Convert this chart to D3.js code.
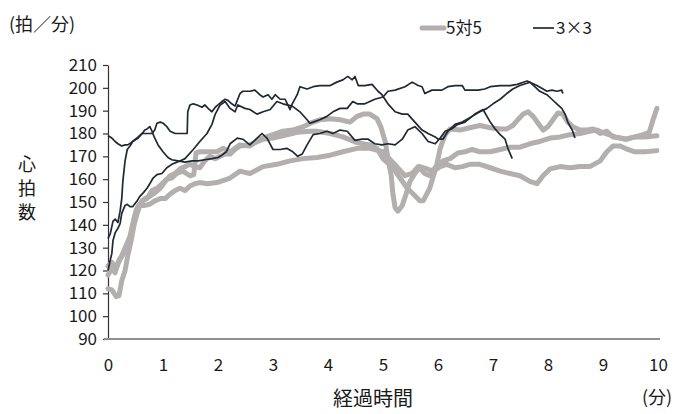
<!DOCTYPE html>
<html>
<head>
<meta charset="utf-8">
<script src="https://cdn.jsdelivr.net/npm/d3@7"></script>
<style>
  html, body { margin: 0; padding: 0; background: #fff; }
  svg { display: block; }
  text { font-family: "Noto Sans CJK JP", "Noto Sans", sans-serif; fill: #1a1a1a; }
</style>
</head>
<body>
<svg id="chart" width="691" height="414"></svg>
<script>
// Axis ticks and labels
const xTicks = [0, 1, 2, 3, 4, 5, 6, 7, 8, 9, 10];
const yTicks = [90, 100, 110, 120, 130, 140, 150, 160, 170, 180, 190, 200, 210];
const legendLabels = ["5対5", "3×3"];

// Heart rate [elapsed minutes, beats per minute] — 5対5 games
const fiveA = [[0,118],[0.07,121],[0.13,119],[0.18,123.5],[0.25,126.5],[0.33,131],[0.4,135],[0.47,142.5],[0.53,147.5],[0.62,150.5],[0.71,151.5],[0.8,155],[0.89,156],[0.98,158],[1.07,160],[1.16,160.5],[1.25,162.5],[1.36,163.5],[1.49,161.5],[1.56,162],[1.6,171.5],[1.67,172],[1.8,172],[1.98,172],[2.09,173.5],[2.22,172],[2.4,175],[2.58,174.5],[2.76,177.5],[3,179.5],[3.18,181],[3.36,181.5],[3.55,183],[3.73,185],[3.85,186],[4.04,186.5],[4.22,186],[4.4,185],[4.53,187.5],[4.64,188.5],[4.76,188.5],[4.89,186.5],[4.96,183],[5.04,176.5],[5.09,169],[5.15,161.5],[5.18,153.5],[5.22,147.5],[5.27,146],[5.35,148.5],[5.42,153.5],[5.49,159],[5.58,162.5],[5.67,165.5],[5.8,164.5],[5.91,163.5],[6.04,165.5],[6.16,166.5],[6.31,165],[6.44,165.5],[6.58,166.5],[6.76,166.5],[6.95,165],[7.13,163.5],[7.31,162.5],[7.49,161.5],[7.67,159],[7.8,158],[7.91,161.5],[8.04,164.5],[8.22,165.5],[8.4,165],[8.58,165.5],[8.76,165.5],[8.95,168],[9.07,172],[9.18,174.5],[9.31,174.5],[9.45,173],[9.58,172],[9.76,172],[9.98,172.5]];
const fiveB = [[0,122],[0.07,123.5],[0.15,121],[0.22,125],[0.31,128.5],[0.4,133],[0.45,139.5],[0.51,146],[0.58,149],[0.67,151.5],[0.76,152.5],[0.85,154],[0.95,156],[1.04,159],[1.13,161.5],[1.22,162.5],[1.31,164.5],[1.4,165.5],[1.49,166.5],[1.58,165.5],[1.67,165],[1.76,168],[1.85,170],[1.95,169],[2.04,170],[2.13,171],[2.22,171],[2.31,173],[2.4,174.5],[2.58,175],[2.82,177.5],[3,178],[3.18,179],[3.44,180.5],[3.67,181],[3.8,181],[4.04,180],[4.27,178.5],[4.53,176],[4.76,175],[4.89,173.5],[5,169],[5.18,165],[5.31,160.5],[5.44,156],[5.55,153.5],[5.67,150.5],[5.73,150.5],[5.85,156],[5.98,166.5],[6.04,173.5],[6.13,179.5],[6.22,182],[6.4,181.5],[6.58,182.5],[6.76,183.5],[6.95,182.5],[7.13,182],[7.25,182],[7.36,183.5],[7.45,186],[7.55,188.5],[7.64,189.5],[7.73,187.5],[7.82,184.5],[7.91,181.5],[8,183],[8.09,186],[8.18,189],[8.27,188.5],[8.36,185],[8.45,183],[8.58,181.5],[8.71,181.5],[8.82,182],[8.95,180],[9.07,181],[9.18,178.5],[9.31,178],[9.44,177.5],[9.58,178.5],[9.73,179.5],[9.84,180.5],[9.91,186],[9.98,191]];
const fiveC = [[0,112],[0.07,111.5],[0.15,108.5],[0.2,109],[0.25,115.5],[0.31,120],[0.36,126.5],[0.42,133],[0.47,139.5],[0.53,145],[0.58,148.5],[0.67,148.5],[0.76,149],[0.85,150.5],[0.95,151.5],[1.04,151.5],[1.13,153.5],[1.22,155],[1.31,156],[1.4,155],[1.49,157],[1.58,158],[1.67,158.5],[1.8,158],[1.98,158.5],[2.22,160.5],[2.4,163.5],[2.58,162.5],[2.82,165.5],[3.07,166.5],[3.31,168],[3.55,169],[3.8,169.5],[4.04,170.5],[4.27,172],[4.53,173.5],[4.76,173.5],[5,172],[5.13,168.5],[5.25,165.5],[5.4,161.5],[5.53,162.5],[5.64,165.5],[5.76,162.5],[5.85,161.5],[5.96,165.5],[6.09,168],[6.22,169],[6.36,171.5],[6.49,172],[6.62,173],[6.76,172],[6.95,172],[7.13,173],[7.31,174],[7.49,174],[7.67,175.5],[7.85,176.5],[8.04,178],[8.22,178.5],[8.4,179.5],[8.58,180],[8.76,181],[8.89,181.5],[9.04,180],[9.22,178.5],[9.4,177.5],[9.58,178.5],[9.76,178.5],[9.98,179]];

// Heart rate [elapsed minutes, beats per minute] — 3×3 games
const threeA = [[0,179],[0.07,178],[0.13,176.5],[0.18,175.5],[0.25,174.5],[0.31,175],[0.36,175],[0.42,176],[0.47,177],[0.55,178.5],[0.62,180],[0.67,181.5],[0.71,182],[0.76,183],[0.8,181],[0.84,178.5],[0.91,175],[1,172],[1.09,169.5],[1.16,168.5],[1.27,168],[1.4,167.5],[1.53,168],[1.64,168],[1.76,168.5],[1.89,169],[2,169.5],[2.07,170.5],[2.15,172],[2.22,175.5],[2.35,178],[2.45,177.5],[2.58,175],[2.71,178],[2.8,180],[2.89,178],[3,173],[3.13,173],[3.25,173.5],[3.36,172],[3.45,170],[3.53,171],[3.62,175],[3.73,179.5],[3.85,180],[3.98,181],[4.09,180],[4.22,181.5],[4.35,181],[4.49,177],[4.62,177.5],[4.73,177.5],[4.85,175.5],[4.98,175],[5.09,175.5],[5.22,175],[5.35,177.5],[5.45,181.5],[5.58,183],[5.71,180],[5.82,176.5],[5.95,175.5],[6.04,178],[6.13,181],[6.25,182],[6.36,184],[6.49,185],[6.67,188.5],[6.82,190.5],[6.89,187.5],[6.95,185],[7.04,182],[7.13,179.5],[7.22,177.5],[7.27,173.5],[7.35,169]];
const threeB = [[0,134],[0.04,136],[0.09,141.5],[0.13,142.5],[0.18,141],[0.22,146],[0.25,151.5],[0.27,159],[0.31,168],[0.35,173],[0.4,174.5],[0.45,176.5],[0.55,178],[0.62,180],[0.71,180],[0.8,180],[0.85,181.5],[0.89,184.5],[0.95,185],[1,184.5],[1.07,183],[1.13,181],[1.22,180],[1.33,180],[1.44,180],[1.45,189.5],[1.49,192.5],[1.55,193],[1.62,192.5],[1.71,191.5],[1.76,192.5],[1.82,191],[1.89,189.5],[1.95,191.5],[2,192.5],[2.07,194],[2.13,195],[2.18,194.5],[2.25,193],[2.31,192],[2.4,197.5],[2.45,198.5],[2.58,198.5],[2.67,199],[2.76,197],[2.82,196],[2.91,197],[2.98,195],[3.04,197],[3.13,195],[3.22,195],[3.27,192.5],[3.31,190.5],[3.35,193],[3.44,197],[3.49,200.5],[3.62,199.5],[3.73,200.5],[3.85,201],[4.04,201],[4.16,202.5],[4.27,203.5],[4.36,205],[4.44,203.5],[4.49,205],[4.55,201],[4.67,201],[4.8,201.5],[4.91,198.5],[4.98,197],[5.09,193],[5.22,189.5],[5.35,188.5],[5.45,188.5],[5.58,185],[5.71,181.5],[5.82,180],[5.95,178.5],[6,177.5],[6.09,177.5],[6.18,181],[6.31,184],[6.44,185],[6.62,187.5],[6.76,189.5],[6.89,191],[7,193],[7.13,195],[7.25,197.5],[7.36,199.5],[7.49,201],[7.62,202],[7.67,202.5],[7.76,200.5],[7.85,198.5],[7.98,197],[8.07,195],[8.16,193],[8.25,191],[8.31,188.5],[8.36,185],[8.44,181.5],[8.49,178]];
const threeC = [[0,120],[0.04,124.5],[0.07,127.5],[0.09,133],[0.13,136.5],[0.18,138.5],[0.22,140.5],[0.25,145],[0.31,148.5],[0.35,149],[0.4,148],[0.45,148],[0.53,150.5],[0.58,152.5],[0.64,154],[0.71,156],[0.76,158],[0.82,160.5],[0.89,162],[0.98,162.5],[1.07,165],[1.16,166.5],[1.31,168],[1.4,169],[1.55,173],[1.67,176.5],[1.8,180],[1.89,184],[1.95,188.5],[2.04,192.5],[2.13,194],[2.22,191],[2.31,189.5],[2.36,192.5],[2.49,191],[2.58,190.5],[2.71,188.5],[2.82,189.5],[2.95,190.5],[3.07,194],[3.18,193],[3.35,192],[3.49,189.5],[3.62,186],[3.67,184.5],[3.73,185],[3.85,186],[3.98,187.5],[4.09,189.5],[4.22,191],[4.35,191],[4.45,194],[4.53,193],[4.67,193],[4.85,195],[5,196],[5.09,198.5],[5.22,199],[5.4,200.5],[5.53,202.5],[5.64,201],[5.71,200.5],[5.76,197.5],[5.89,199],[6.07,199],[6.18,200.5],[6.31,201],[6.44,201],[6.49,199],[6.62,199],[6.73,199],[6.85,199.5],[6.95,200.5],[7.13,201],[7.31,201],[7.44,201.5],[7.62,203],[7.71,202],[7.8,201],[7.91,199.5],[7.98,198.5],[8.07,199],[8.16,198.5],[8.25,199],[8.27,197.5]];

const fiveSeries = [fiveA, fiveB, fiveC];
const threeSeries = [threeA, threeB, threeC];

const grayColor = "#b3afae";
const darkColor = "#1f2833";

const svg = d3.select("#chart");
const x = d3.scaleLinear().domain([0, 10]).range([108, 658]);
const y = d3.scaleLinear().domain([90, 210]).range([339, 65]);

const line = d3.line().x(d => x(d[0])).y(d => y(d[1]));

// Y axis (left, with outward ticks)
const yAxis = svg.append("g")
  .attr("transform", `translate(${x(0)},0)`)
  .call(d3.axisLeft(y).tickValues(yTicks).tickSize(5).tickSizeOuter(0).tickPadding(6));
yAxis.select(".domain").attr("stroke", "#333").attr("stroke-width", 1.2);
yAxis.selectAll(".tick line").attr("stroke", "#333").attr("stroke-width", 1.2);
yAxis.selectAll(".tick text")
  .attr("font-size", 17)
  .attr("font-family", "\"Noto Sans CJK JP\", sans-serif")
  .attr("fill", "#1a1a1a");

// X axis (gray baseline, labels only)
const xAxis = svg.append("g")
  .attr("transform", `translate(0,${y(90)})`)
  .call(d3.axisBottom(x).tickValues(xTicks).tickSize(0).tickSizeOuter(0).tickPadding(20));
xAxis.select(".domain").attr("stroke", "#8f8f8f").attr("stroke-width", 2)
  .attr("d", `M${x(0) - 4},0H${x(10) + 2}`);
xAxis.selectAll(".tick text")
  .attr("font-size", 17)
  .attr("font-family", "\"Noto Sans CJK JP\", sans-serif")
  .attr("fill", "#1a1a1a");

// 5対5 traces (thick gray)
svg.append("g").selectAll("path")
  .data(fiveSeries)
  .join("path")
  .attr("d", line)
  .attr("fill", "none")
  .attr("stroke", grayColor)
  .attr("stroke-width", 5)
  .attr("stroke-linejoin", "round")
  .attr("stroke-linecap", "round");

// 3×3 traces (thin dark)
svg.append("g").selectAll("path")
  .data(threeSeries)
  .join("path")
  .attr("d", line)
  .attr("fill", "none")
  .attr("stroke", darkColor)
  .attr("stroke-width", 1.7)
  .attr("stroke-linejoin", "round");

// Axis titles
svg.append("text").attr("x", 9).attr("y", 31).attr("font-size", 18).text("(拍／分)");

const vTitle = ["心", "拍", "数"];
svg.append("g").selectAll("text")
  .data(vTitle)
  .join("text")
  .attr("x", 27)
  .attr("y", (d, i) => 171 + i * 24)
  .attr("text-anchor", "middle")
  .attr("font-size", 18)
  .text(d => d);

svg.append("text").attr("x", 373).attr("y", 406).attr("text-anchor", "middle")
  .attr("font-size", 20).text("経過時間");
svg.append("text").attr("x", 657).attr("y", 404).attr("text-anchor", "middle")
  .attr("font-size", 18).text("(分)");

// Legend
const legend = svg.append("g");
const legendItems = [
  { label: legendLabels[0], color: grayColor, width: 5, x0: 422, x1: 444 },
  { label: legendLabels[1], color: darkColor, width: 1.7, x0: 533, x1: 554 }
];
legendItems.forEach(item => {
  legend.append("line")
    .attr("x1", item.x0).attr("x2", item.x1)
    .attr("y1", 28).attr("y2", 28)
    .attr("stroke", item.color).attr("stroke-width", item.width)
    .attr("stroke-linecap", item.width > 3 ? "round" : "butt");
  legend.append("text")
    .attr("x", item.x1 + 2).attr("y", 34)
    .attr("font-size", 17)
    .text(item.label);
});
</script>
</body>
</html>
